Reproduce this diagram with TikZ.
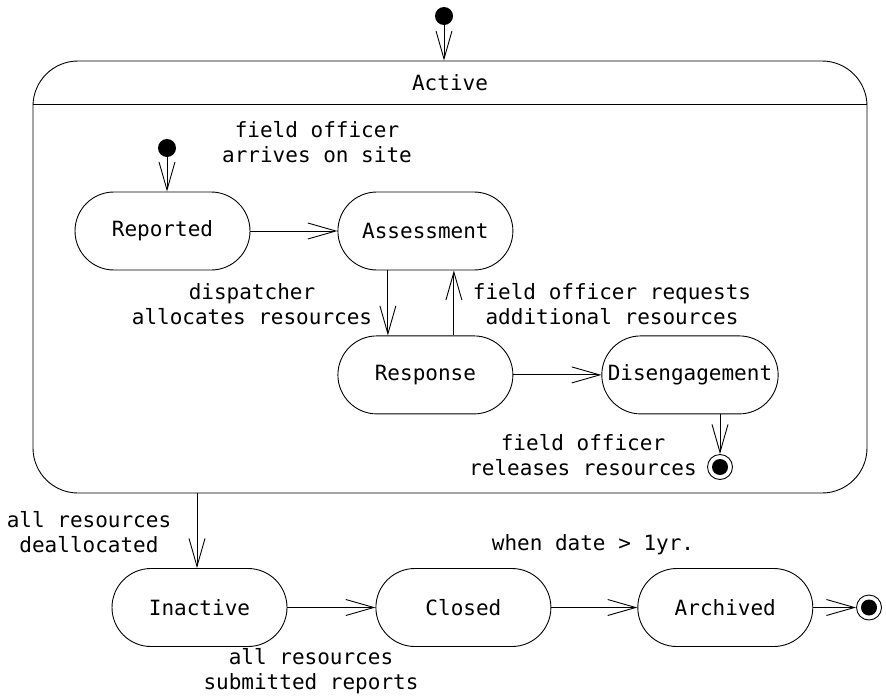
\documentclass[tikz,border=0pt]{standalone}
\usepackage{fontspec}
\setmainfont{DejaVu Sans Mono}
\usetikzlibrary{positioning,arrows.meta}

\begin{document}
\begin{tikzpicture}[x=1pt,y=1pt,line width=0.9pt,>={Straight Barb[length=28pt,width=16pt]},
  font=\fontsize{21}{24.5}\selectfont,
  state/.style={draw,rounded corners=39pt,minimum width=175pt,minimum height=78pt,inner xsep=6pt},
  init/.style={circle,fill,minimum size=18pt,inner sep=0pt},
  final/.style={circle,draw,minimum size=25pt,inner sep=0pt,
    path picture={\fill (path picture bounding box.center) circle (8pt);}},
  lbl/.style={align=center,inner sep=0pt}]
  \useasboundingbox (0,0) rectangle (886,-699);

  \node[init] (top) at (444,-16) {};
  \node[draw,rounded corners=45pt,minimum width=834pt,minimum height=432pt] (active) at (450,-277) {};
  \node (title) at (450,-83) {Active};
  \draw (active.west |- 0,-104) -- (active.east |- 0,-104);
  \draw[->] (top) -- (top |- active.north);

  \node[init] (start) at (167,-148) {};
  \node[state] (rep) at (162.5,-231) {Reported};
  \node[state,right=87pt of rep] (assess) {Assessment};
  \node[state,below=65pt of assess] (resp) {Response};
  \node[state,right=88pt of resp] (diseng) {Disengagement};
  \node[final] (end1) at (720,-467) {};

  \draw[->] (start) -- (start |- rep.north);
  \draw[->] (rep) -- (assess);
  \draw[->] ([xshift=-37.5pt]assess.south) -- ([xshift=-37.5pt]resp.north);
  \draw[->] ([xshift=28.5pt]resp.north) -- ([xshift=28.5pt]assess.south);
  \draw[->] (resp) -- (diseng);
  \draw[->] (diseng.south -| end1) -- (end1);

  \node[lbl] (arrives) at (317,-142) {field officer\\arrives on site};
  \node[lbl] (alloc) at (252,-304) {dispatcher\\allocates resources};
  \node[lbl] (request) at (612,-304) {field officer requests\\additional resources};
  \node[lbl] (release) at (583,-455) {field officer\\releases resources};

  \node[state] (inactive) at (199.5,-607.5) {Inactive};
  \node[state,right=88pt of inactive] (closed) {Closed};
  \node[state,right=86pt of closed] (archived) {Archived};
  \node[final] (end2) at (869,-607.5) {};

  \draw[->] (active.south -| 197,0) -- (inactive.north -| 197,0);
  \draw[->] (inactive) -- (closed);
  \draw[->] (closed) -- (archived);
  \draw[->] (archived) -- (end2);

  \node[lbl] (dealloc) at (89,-532) {all resources\\deallocated};
  \node[lbl] (date) at (593,-545) {when date > 1yr.};
  \node[lbl] (submit) at (311,-671) {all resources\\submitted reports};
\end{tikzpicture}
\end{document}
